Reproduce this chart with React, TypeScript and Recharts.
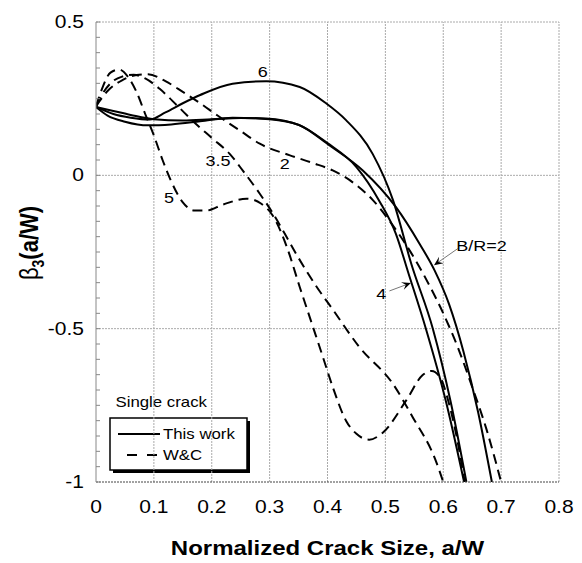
import React from 'react';
import { LineChart, Line, XAxis, YAxis, ReferenceLine, ReferenceDot, Customized } from 'recharts';

// ---- data (x = a/W, y = beta_3) ----
// This work (solid)
const s2X = [0, 0.03, 0.06, 0.1, 0.15, 0.2, 0.25, 0.3, 0.35, 0.403, 0.461, 0.518, 0.559, 0.585, 0.61, 0.635, 0.66, 0.684];
const s2Y = [0.223, 0.21, 0.197, 0.183, 0.179, 0.183, 0.187, 0.183, 0.165, 0.098, 0.016, -0.103, -0.223, -0.31, -0.42, -0.575, -0.77, -1];
const s4X = [0, 0.02, 0.05, 0.09, 0.13, 0.18, 0.236, 0.294, 0.352, 0.4, 0.45, 0.49, 0.518, 0.54, 0.57, 0.605, 0.636];
const s4Y = [0.223, 0.195, 0.175, 0.163, 0.166, 0.176, 0.188, 0.185, 0.163, 0.105, 0.027, -0.085, -0.19, -0.32, -0.5, -0.74, -1];
const s6X = [0, 0.03, 0.06, 0.093, 0.12, 0.15, 0.18, 0.236, 0.294, 0.352, 0.398, 0.432, 0.478, 0.513, 0.545, 0.582, 0.613, 0.64];
const s6Y = [0.223, 0.2, 0.188, 0.182, 0.205, 0.235, 0.262, 0.299, 0.307, 0.288, 0.234, 0.18, 0.07, -0.08, -0.29, -0.5, -0.74, -1];

// W&C (dashed)
const d2X = [0, 0.02, 0.045, 0.07, 0.09, 0.12, 0.15, 0.18, 0.21, 0.248, 0.283, 0.334, 0.375, 0.409, 0.443, 0.478, 0.507, 0.53, 0.55, 0.575, 0.6, 0.625, 0.65, 0.675, 0.7];
const d2Y = [0.225, 0.275, 0.31, 0.327, 0.33, 0.307, 0.272, 0.235, 0.195, 0.147, 0.103, 0.066, 0.04, 0.016, -0.022, -0.08, -0.148, -0.21, -0.27, -0.355, -0.45, -0.56, -0.69, -0.83, -1];
const d35X = [0, 0.01, 0.025, 0.045, 0.065, 0.085, 0.11, 0.14, 0.17, 0.2, 0.231, 0.255, 0.283, 0.306, 0.326, 0.347, 0.38, 0.41, 0.455, 0.513, 0.547, 0.587, 0.6];
const d35Y = [0.225, 0.262, 0.3, 0.322, 0.328, 0.316, 0.282, 0.228, 0.172, 0.122, 0.07, 0.012, -0.06, -0.125, -0.19, -0.26, -0.36, -0.44, -0.56, -0.68, -0.788, -0.93, -1];
const d5X = [0, 0.01, 0.025, 0.04, 0.055, 0.07, 0.085, 0.1, 0.115, 0.13, 0.15, 0.17, 0.19, 0.22, 0.26, 0.285, 0.305, 0.33, 0.352, 0.375, 0.392, 0.409, 0.432, 0.45, 0.472, 0.495, 0.536, 0.564, 0.58, 0.595, 0.61, 0.625, 0.637];
const d5Y = [0.225, 0.28, 0.335, 0.345, 0.322, 0.272, 0.2, 0.13, 0.05, -0.02, -0.088, -0.115, -0.115, -0.095, -0.076, -0.092, -0.13, -0.235, -0.364, -0.495, -0.592, -0.69, -0.8, -0.843, -0.862, -0.84, -0.734, -0.652, -0.638, -0.66, -0.745, -0.87, -1];

// axes
const xTicks = [0, 0.1, 0.2, 0.3, 0.4, 0.5, 0.6, 0.7, 0.8];
const yTicks = [-1, -0.95, -0.9, -0.85, -0.8, -0.75, -0.7, -0.65, -0.6, -0.55, -0.5, -0.45, -0.4, -0.35, -0.3, -0.25, -0.2, -0.15, -0.1, -0.05, 0, 0.05, 0.1, 0.15, 0.2, 0.25, 0.3, 0.35, 0.4, 0.45, 0.5];
const gridX = [0.1, 0.2, 0.3, 0.4, 0.5, 0.6, 0.7, 0.8];
const gridY = [-0.5, 0, 0.5];

// curve labels and arrows
const curveLabels = ['6', '3.5', '2', '5', '4', 'B/R=2'];
const curveLabelX = [0.288, 0.211, 0.326, 0.126, 0.493, 0.666];
const curveLabelY = [0.337, 0.049, 0.038, -0.071, -0.386, -0.228];
const arrowFrom = [{ x: 0.507, y: -0.377 }, { x: 0.625, y: -0.239 }];
const arrowTo = [{ x: 0.544, y: -0.351 }, { x: 0.584, y: -0.293 }];

const FONT = "'Liberation Sans', Arial, Helvetica, sans-serif";
const SX = 1.2; // the original figure is stretched horizontally

const zip = (xs: number[], ys: number[]) => xs.map((x, i) => ({ x, y: ys[i] }));

const series = [
  { key: 's2', data: zip(s2X, s2Y), dash: undefined },
  { key: 's4', data: zip(s4X, s4Y), dash: undefined },
  { key: 's6', data: zip(s6X, s6Y), dash: undefined },
  { key: 'd2', data: zip(d2X, d2Y), dash: '10 6' },
  { key: 'd35', data: zip(d35X, d35Y), dash: '10 6' },
  { key: 'd5', data: zip(d5X, d5Y), dash: '10 6' },
];

const fmt = (v: number) => (Math.abs(v) < 1e-9 ? '0' : String(v));

const SText = ({ x, y, size, anchor = 'middle', weight = 'normal', children }: any) => (
  <text
    transform={`translate(${x},${y}) scale(${SX},1)`}
    textAnchor={anchor}
    fontSize={size}
    fontWeight={weight}
    fontFamily={FONT}
    fill="#000"
  >
    {children}
  </text>
);

const YTick = (props: any) => {
  const { x, y, payload } = props;
  const v = payload.value;
  const major = Math.abs(v * 2 - Math.round(v * 2)) < 1e-6;
  return (
    <g>
      <line x1={x} x2={x + 4} y1={y} y2={y} stroke="#888" />
      {major && <SText x={x - 12} y={y + 6} size={17.5} anchor="end">{fmt(v)}</SText>}
    </g>
  );
};

const XTick = (props: any) => {
  const { x, y, payload } = props;
  return <SText x={x} y={y + 31} size={17.5}>{fmt(payload.value)}</SText>;
};

const ArrowShape = (p: any) => {
  const { x1, y1, x2, y2 } = p;
  const a = Math.atan2(y2 - y1, x2 - x1);
  const L = 9;
  const W = 4;
  const bx = x2 - L * Math.cos(a);
  const by = y2 - L * Math.sin(a);
  const nx = x2 - 0.6 * L * Math.cos(a);
  const ny = y2 - 0.6 * L * Math.sin(a);
  const pts = `${x2},${y2} ${bx + W * Math.sin(a)},${by - W * Math.cos(a)} ${nx},${ny} ${bx - W * Math.sin(a)},${by + W * Math.cos(a)}`;
  return (
    <g>
      <line x1={x1} y1={y1} x2={nx} y2={ny} stroke="#777" strokeWidth={1} />
      <polygon points={pts} fill="#000" />
    </g>
  );
};

// static text: axis title, y label, legend box
const Decor = () => (
  <g>
    <SText x={327.5} y={555} size={20} weight="bold">Normalized Crack Size, a/W</SText>
    <text
      transform={`translate(38,243) scale(${SX},1) rotate(-90)`}
      textAnchor="middle"
      fontFamily={FONT}
      fontSize={22}
      fill="#000"
    >
      <tspan>β</tspan>
      <tspan fontSize={14} fontWeight="bold" dy={5}>3</tspan>
      <tspan fontWeight="bold" dy={-5}>(a/W)</tspan>
    </text>

    <SText x={115.5} y={407} size={14} anchor="start">Single crack</SText>
    <rect x={113} y={421} width={137} height={52} fill="#000" />
    <rect x={110} y={418} width={137} height={52} fill="#fff" stroke="#000" strokeWidth={1.5} />
    <line x1={118} x2={160} y1={434} y2={434} stroke="#000" strokeWidth={2} />
    <line x1={127} x2={157} y1={455} y2={455} stroke="#000" strokeWidth={2} strokeDasharray="10 10" />
    <SText x={163} y={439} size={14} anchor="start">This work</SText>
    <SText x={163} y={460} size={14} anchor="start">W&amp;C</SText>
  </g>
);

export default function App() {
  return (
    <div style={{ position: 'absolute', left: 0, top: 0, width: 582, height: 563, background: '#fff' }}>
      <LineChart width={582} height={563} margin={{ top: 22, right: 23, bottom: 0, left: 0 }}>
        <XAxis
          type="number"
          dataKey="x"
          domain={[0, 0.8]}
          ticks={xTicks}
          interval={0}
          allowDataOverflow
          height={81}
          tickSize={0}
          tickMargin={0}
          tickLine={false}
          axisLine={{ stroke: '#444', strokeDasharray: '2 1' }}
          tick={<XTick />}
        />
        <YAxis
          type="number"
          dataKey="y"
          domain={[-1, 0.5]}
          ticks={yTicks}
          interval={0}
          allowDataOverflow
          width={96}
          tickSize={0}
          tickMargin={0}
          tickLine={false}
          axisLine={{ stroke: '#888' }}
          tick={<YTick />}
        />

        {gridX.map((v) => (
          <ReferenceLine key={'gx' + v} x={v} stroke="#aaa" strokeDasharray="2 1" />
        ))}
        {gridY.map((v) => (
          <ReferenceLine key={'gy' + v} y={v} stroke="#aaa" strokeDasharray="2 1" />
        ))}

        {series.map((s) => (
          <Line
            key={s.key}
            data={s.data}
            dataKey="y"
            type="monotone"
            stroke="#000"
            strokeWidth={2}
            strokeDasharray={s.dash}
            dot={false}
            activeDot={false}
            isAnimationActive={false}
          />
        ))}

        {arrowFrom.map((f, i) => (
          <ReferenceLine key={'ar' + i} segment={[f, arrowTo[i]]} shape={ArrowShape} />
        ))}

        {curveLabels.map((t, i) => (
          <ReferenceDot
            key={'lb' + i}
            x={curveLabelX[i]}
            y={curveLabelY[i]}
            r={0}
            shape={(p: any) => <SText x={p.cx} y={p.cy + 5.5} size={15}>{t}</SText>}
          />
        ))}

        <Customized component={Decor} />
      </LineChart>
    </div>
  );
}
